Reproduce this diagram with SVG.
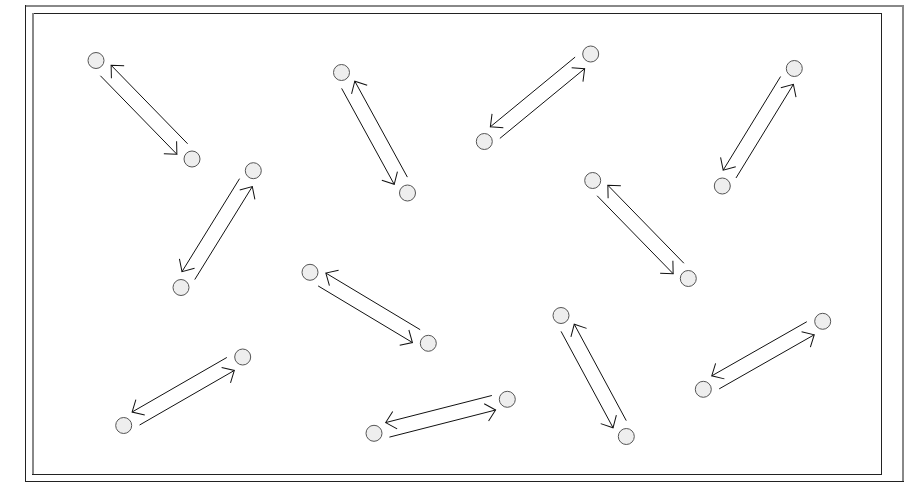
<svg xmlns="http://www.w3.org/2000/svg" width="909" height="487" viewBox="0 0 909 487">
<style>
.dark{fill:none;stroke:#222;stroke-width:1}
.grey{fill:none;stroke:#888;stroke-width:2}
.node{fill:#eeeeee;stroke:#555;stroke-width:1}
.edge{fill:none;stroke:#111;stroke-width:1;marker-end:url(#arr)}
</style>
<defs>
<marker id="arr" markerUnits="userSpaceOnUse" orient="auto" refX="0" refY="0" markerWidth="30" markerHeight="30" viewBox="-15 -15 30 30" overflow="visible">
<path d="M-9.5,-8.9 L0,0 L-9.5,8.9" fill="none" stroke="#111" stroke-width="1"/>
</marker>
</defs>
<rect x="0" y="0" width="909" height="487" fill="#fff"/>
<g id="frame">
<line class="grey" x1="25" y1="6" x2="903" y2="6"/>
<line class="grey" x1="903" y1="5" x2="903" y2="482"/>
<line class="dark" x1="25.5" y1="5" x2="25.5" y2="482"/>
<line class="dark" x1="25" y1="481.5" x2="904" y2="481.5"/>
<line class="dark" x1="32" y1="13.5" x2="882" y2="13.5"/>
<line class="grey" x1="33" y1="13" x2="33" y2="474"/>
<line class="dark" x1="881.5" y1="13" x2="881.5" y2="475"/>
<line class="dark" x1="32" y1="474.5" x2="882" y2="474.5"/>
</g>
<g id="edges">
<line class="edge" x1="100.4" y1="75.76" x2="176.86" y2="154.22"/>
<line class="edge" x1="187.6" y1="143.74" x2="111.14" y2="65.28"/>
<line class="edge" x1="341.64" y1="88.38" x2="394.2" y2="184.32"/>
<line class="edge" x1="407.36" y1="177.12" x2="354.8" y2="81.18"/>
<line class="edge" x1="499.87" y1="138.4" x2="584.65" y2="68.68"/>
<line class="edge" x1="575.13" y1="57.1" x2="490.35" y2="126.82"/>
<line class="edge" x1="736.0" y1="177.98" x2="793.39" y2="84.36"/>
<line class="edge" x1="780.59" y1="76.52" x2="723.2" y2="170.14"/>
<line class="edge" x1="194.75" y1="279.55" x2="252.31" y2="186.55"/>
<line class="edge" x1="239.55" y1="178.65" x2="181.99" y2="271.65"/>
<line class="edge" x1="318.14" y1="285.93" x2="412.44" y2="342.53"/>
<line class="edge" x1="420.16" y1="329.67" x2="325.86" y2="273.07"/>
<line class="edge" x1="597.11" y1="195.76" x2="673.15" y2="273.72"/>
<line class="edge" x1="683.89" y1="263.24" x2="607.85" y2="185.28"/>
<line class="edge" x1="139.57" y1="425.02" x2="234.31" y2="370.48"/>
<line class="edge" x1="226.83" y1="357.48" x2="132.09" y2="412.02"/>
<line class="edge" x1="389.41" y1="437.11" x2="495.59" y2="410.03"/>
<line class="edge" x1="491.89" y1="395.49" x2="385.71" y2="422.57"/>
<line class="edge" x1="561.05" y1="331.38" x2="613.05" y2="427.74"/>
<line class="edge" x1="626.25" y1="420.62" x2="574.25" y2="324.26"/>
<line class="edge" x1="719.18" y1="388.89" x2="814.24" y2="334.75"/>
<line class="edge" x1="806.82" y1="321.71" x2="711.76" y2="375.85"/>
</g>
<g id="n1a"><circle class="node" cx="96" cy="60.5" r="8"/></g>
<g id="n1b"><circle class="node" cx="192" cy="159" r="8"/></g>
<g id="n2a"><circle class="node" cx="341.5" cy="72.5" r="8"/></g>
<g id="n2b"><circle class="node" cx="407.5" cy="193" r="8"/></g>
<g id="n3a"><circle class="node" cx="484.3" cy="141.5" r="8"/></g>
<g id="n3b"><circle class="node" cx="590.7" cy="54" r="8"/></g>
<g id="n4a"><circle class="node" cx="722.3" cy="186" r="8"/></g>
<g id="n4b"><circle class="node" cx="794.3" cy="68.5" r="8"/></g>
<g id="n5a"><circle class="node" cx="181" cy="287.5" r="8"/></g>
<g id="n5b"><circle class="node" cx="253.3" cy="170.7" r="8"/></g>
<g id="n6a"><circle class="node" cx="310" cy="272.3" r="8"/></g>
<g id="n6b"><circle class="node" cx="428.3" cy="343.3" r="8"/></g>
<g id="n7a"><circle class="node" cx="592.7" cy="180.5" r="8"/></g>
<g id="n7b"><circle class="node" cx="688.3" cy="278.5" r="8"/></g>
<g id="n8a"><circle class="node" cx="123.7" cy="425.5" r="8"/></g>
<g id="n8b"><circle class="node" cx="242.7" cy="357" r="8"/></g>
<g id="n9a"><circle class="node" cx="374" cy="433.3" r="8"/></g>
<g id="n9b"><circle class="node" cx="507.3" cy="399.3" r="8"/></g>
<g id="n10a"><circle class="node" cx="561" cy="315.5" r="8"/></g>
<g id="n10b"><circle class="node" cx="626.3" cy="436.5" r="8"/></g>
<g id="n11a"><circle class="node" cx="703.3" cy="389.3" r="8"/></g>
<g id="n11b"><circle class="node" cx="822.7" cy="321.3" r="8"/></g>
</svg>
